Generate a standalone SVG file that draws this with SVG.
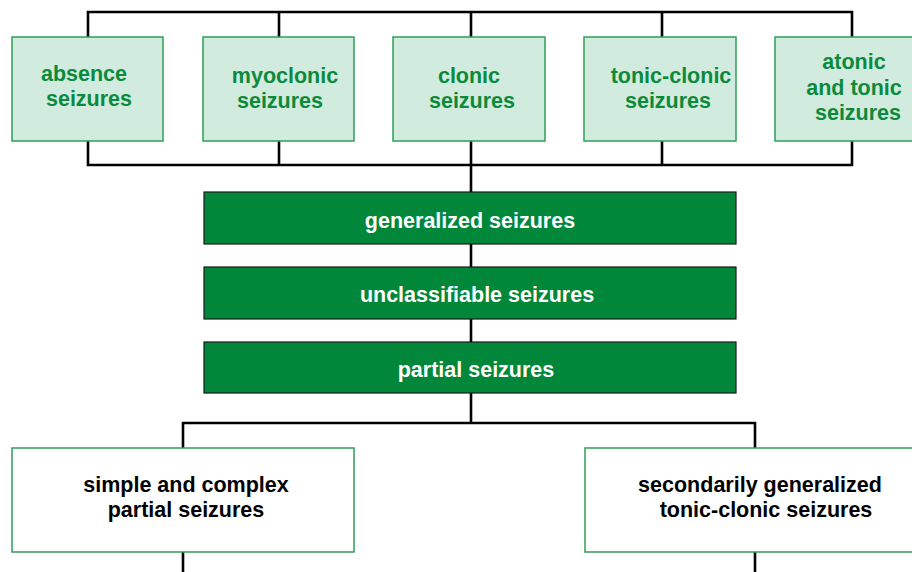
<svg xmlns="http://www.w3.org/2000/svg" width="912" height="572" viewBox="0 0 912 572">
<style>
.ln{stroke:#000;stroke-width:2.6;fill:none;stroke-linecap:square}
.lt{fill:#d1ebdf;stroke:#2f9e55;stroke-width:1.5}
.dk{fill:#00873a;stroke:#1a1a1a;stroke-width:1.2}
.wh{fill:#fff;stroke:#2f9e55;stroke-width:1.5}
text{font-family:"Liberation Sans",Arial,sans-serif;font-weight:bold;font-size:21.5px;text-anchor:middle}
.tg{fill:#0c8a3c}
.tw{fill:#fff}
.tb{fill:#000}
</style>
<rect width="912" height="572" fill="#fff"/>
<g id="connectors">
<path class="ln" d="M88 12H852M88 12V37M279 12V37M471 12V37M662 12V37M852 12V37"/>
<path class="ln" d="M88 165H852M88 141V165M279 141V165M471 141V192M662 141V165M852 141V165"/>
<path class="ln" d="M471 244V267M471 319V342M471 393V423M183 423H755M183 423V448M755 423V448M183 552V574M755 552V574"/>
</g>
<g id="absence"><rect class="lt" x="12" y="37" width="151" height="104"/><text class="tg" x="84" y="81">absence</text><text class="tg" x="89" y="106">seizures</text></g>
<g id="myoclonic"><rect class="lt" x="203" y="37" width="151" height="104"/><text class="tg" x="285" y="83">myoclonic</text><text class="tg" x="280" y="108">seizures</text></g>
<g id="clonic"><rect class="lt" x="393" y="37" width="152" height="104"/><text class="tg" x="469" y="83">clonic</text><text class="tg" x="472" y="108">seizures</text></g>
<g id="tonic-clonic"><rect class="lt" x="584" y="37" width="152" height="104"/><text class="tg" x="671" y="83">tonic-clonic</text><text class="tg" x="668" y="108">seizures</text></g>
<g id="atonic"><rect class="lt" x="775" y="37" width="152" height="104"/><text class="tg" x="854" y="69">atonic</text><text class="tg" x="854" y="95">and tonic</text><text class="tg" x="858" y="120">seizures</text></g>
<g id="generalized"><rect class="dk" x="204" y="192" width="532" height="52"/><text class="tw" x="470" y="228">generalized seizures</text></g>
<g id="unclassifiable"><rect class="dk" x="204" y="267" width="532" height="52"/><text class="tw" x="477" y="302">unclassifiable seizures</text></g>
<g id="partial"><rect class="dk" x="204" y="342" width="532" height="51"/><text class="tw" x="476" y="377">partial seizures</text></g>
<g id="simple-complex"><rect class="wh" x="12" y="448" width="342" height="104"/><text class="tb" x="186" y="492">simple and complex</text><text class="tb" x="186" y="517">partial seizures</text></g>
<g id="secondarily"><rect class="wh" x="585" y="448" width="342" height="104"/><text class="tb" x="760" y="492">secondarily generalized</text><text class="tb" x="766" y="517">tonic-clonic seizures</text></g>
</svg>
